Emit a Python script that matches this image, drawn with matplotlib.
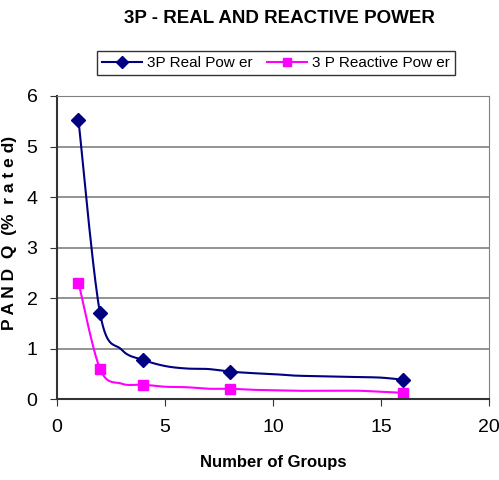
import numpy as np
import matplotlib.pyplot as plt

# groups 1..16, markers shown only at 1, 2, 4, 8, 16
groups = [1, 2, 3, 4, 5, 6, 7, 8, 9, 10, 11, 12, 13, 14, 15, 16]
real_power = [5.52, 1.70, 0.98, 0.78, 0.66, 0.61, 0.60, 0.55,
              0.52, 0.50, 0.47, 0.46, 0.45, 0.44, 0.43, 0.39]
reactive_power = [2.31, 0.60, 0.31, 0.29, 0.25, 0.24, 0.21, 0.21,
                  0.19, 0.18, 0.17, 0.17, 0.17, 0.17, 0.15, 0.13]
marked_groups = [1, 2, 4, 8, 16]

plt.rcParams['font.family'] = ['Liberation Sans', 'DejaVu Sans']


def smooth(x, y, n=20):
    # excel-like smoothed line (catmull-rom through the points)
    x = np.asarray(x, float)
    y = np.asarray(y, float)
    px = np.concatenate([[x[0]], x, [x[-1]]])
    py = np.concatenate([[y[0]], y, [y[-1]]])
    xs, ys = [], []
    t = np.linspace(0, 1, n, endpoint=False)
    for i in range(1, len(px) - 2):
        p0, p1, p2, p3 = px[i-1:i+3]
        q0, q1, q2, q3 = py[i-1:i+3]
        b1x, b1y = p1 + (p2 - p0) / 6, q1 + (q2 - q0) / 6
        b2x, b2y = p2 - (p3 - p1) / 6, q2 - (q3 - q1) / 6
        xs.extend((1-t)**3*p1 + 3*(1-t)**2*t*b1x + 3*(1-t)*t**2*b2x + t**3*p2)
        ys.extend((1-t)**3*q1 + 3*(1-t)**2*t*b1y + 3*(1-t)*t**2*b2y + t**3*q2)
    xs.append(x[-1])
    ys.append(y[-1])
    return xs, ys


fig = plt.figure(figsize=(4.99, 4.8), dpi=100)
ax = fig.add_axes([0.114, 0.168, 0.866, 0.632])

navy = '#000080'
magenta = '#ff00ff'

sx, sy = smooth(groups, real_power)
ax.plot(sx, sy, color=navy, lw=1.5)
sx, sy = smooth(groups, reactive_power)
ax.plot(sx, sy, color=magenta, lw=1.5)

idx = [groups.index(g) for g in marked_groups]
ax.plot([groups[i] for i in idx], [real_power[i] for i in idx], 'D',
        color=navy, ms=7)
ax.plot([groups[i] for i in idx], [reactive_power[i] for i in idx], 's',
        color=magenta, ms=7)

# legend entries
h1, = ax.plot([], [], color=navy, lw=1.5, marker='D', ms=6, label='3P Real Pow er')
h2, = ax.plot([], [], color=magenta, lw=1.5, marker='s', ms=6, label='3 P Reactive Pow er')
leg = fig.legend(handles=[h1, h2], loc='center', bbox_to_anchor=(0.553, 0.869),
                 ncol=2, fontsize=11, frameon=True, fancybox=False,
                 edgecolor='black', handlelength=2.6, handletextpad=0.3,
                 columnspacing=1.0, borderpad=0.35)
leg.get_frame().set_linewidth(1.0)

ax.set_xlim(0, 20)
ax.set_ylim(0, 6)
ax.set_xticks([0, 5, 10, 15, 20])
ax.set_yticks([0, 1, 2, 3, 4, 5, 6])
ax.grid(axis='y', color='#808080', lw=1.2)
ax.set_axisbelow(True)
for s in ['top', 'right']:
    ax.spines[s].set_color('#808080')
for s in ['left', 'bottom']:
    ax.spines[s].set_color('#333333')
    ax.spines[s].set_linewidth(1.5)
ax.tick_params(axis='both', labelsize=14, length=5, color='#333333', pad=9)

ax.set_xlabel('Number of Groups', fontsize=12, fontweight='bold', labelpad=14)
ax.set_ylabel('P A N D  Q  (%  r a t e d)', fontsize=12.5, fontweight='bold')
ax.yaxis.set_label_coords(-0.092, 0.55)
fig.suptitle('3P - REAL AND REACTIVE POWER', x=0.56, y=0.98, fontsize=13.5, fontweight='bold')

plt.savefig('out.png', dpi=100)
